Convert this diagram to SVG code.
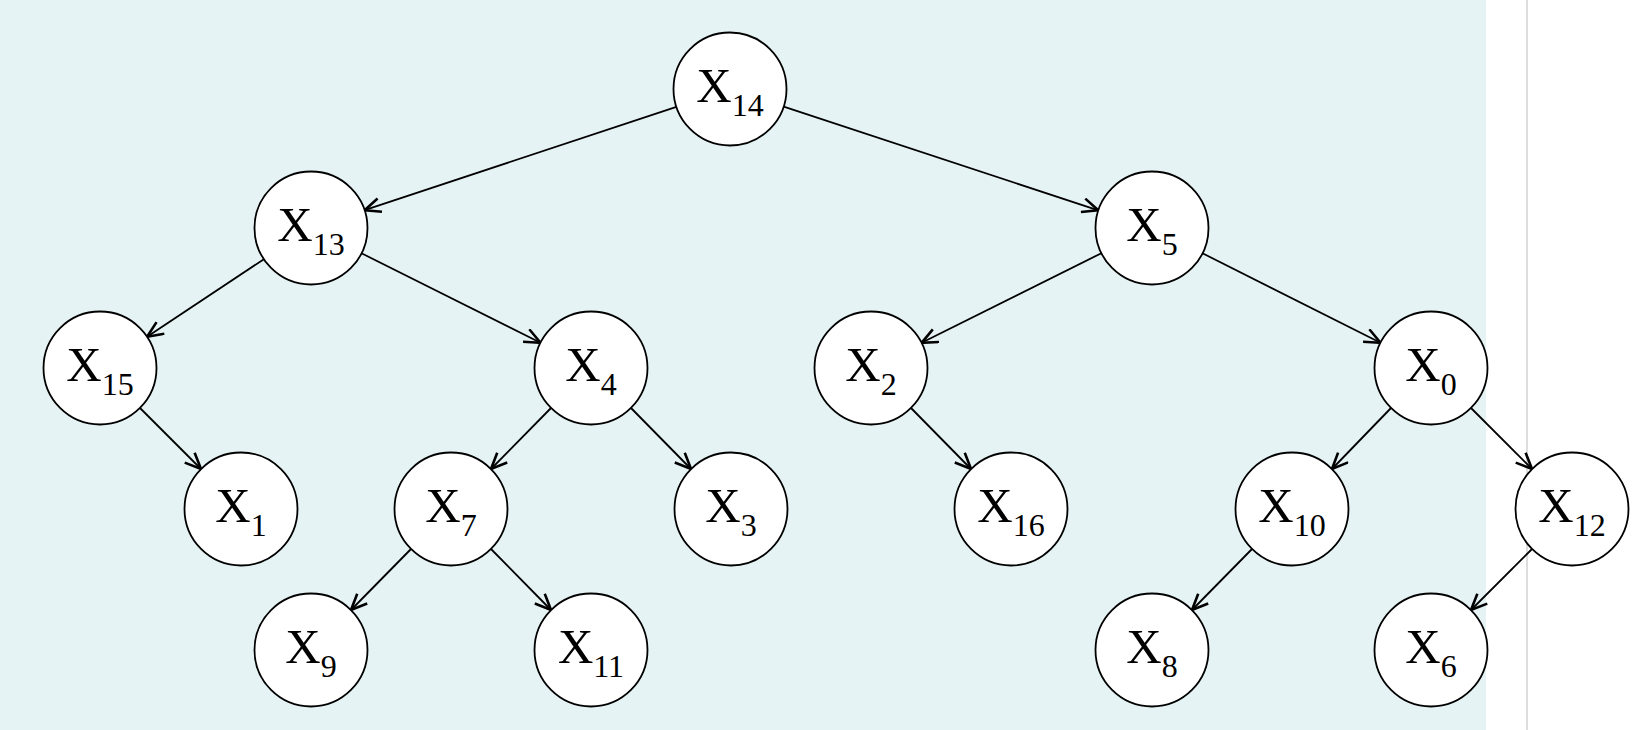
<svg xmlns="http://www.w3.org/2000/svg" width="1640" height="730" viewBox="0 0 1640 730">
<style>
.n circle{fill:#fff;stroke:#000;stroke-width:1.8}
.n text{font-family:"Liberation Serif",serif;font-size:49px;text-anchor:middle;fill:#000}
.n tspan{font-size:32px}
#edges line{stroke:#000;stroke-width:1.8;marker-end:url(#a)}
</style>
<defs><marker id="a" markerUnits="userSpaceOnUse" markerWidth="22" markerHeight="20" refX="18" refY="8" orient="auto"><path d="M2,1 L18,8 L2,15" fill="none" stroke="#000" stroke-width="2.6"/></marker></defs>
<rect x="0" y="0" width="1486" height="730" fill="#e6f3f5"/>
<line x1="1527" y1="0" x2="1527" y2="730" stroke="#ddd" stroke-width="2"/>
<g id="edges">
<line x1="676.4" y1="106.8" x2="364.6" y2="210.2"/>
<line x1="783.7" y1="106.7" x2="1098.3" y2="210.3"/>
<line x1="263.9" y1="259.2" x2="147.1" y2="336.8"/>
<line x1="361.5" y1="253.3" x2="540.5" y2="342.7"/>
<line x1="1101.4" y1="253.2" x2="921.6" y2="342.8"/>
<line x1="1202.5" y1="253.3" x2="1380.5" y2="342.7"/>
<line x1="140" y1="408" x2="201" y2="469"/>
<line x1="551" y1="408" x2="491" y2="469"/>
<line x1="631" y1="408" x2="691" y2="469"/>
<line x1="911" y1="408" x2="971" y2="469"/>
<line x1="1391" y1="408" x2="1332" y2="469"/>
<line x1="1471" y1="408" x2="1532" y2="469"/>
<line x1="411" y1="549" x2="351" y2="610"/>
<line x1="491" y1="549" x2="551" y2="610"/>
<line x1="1252" y1="549" x2="1192" y2="610"/>
<line x1="1532" y1="549" x2="1471" y2="610"/>
</g>
<g id="x14" class="n"><circle cx="730" cy="89" r="56.5"/><text x="730" y="102">X<tspan dy="14">14</tspan></text></g>
<g id="x13" class="n"><circle cx="311" cy="228" r="56.5"/><text x="311" y="241">X<tspan dy="14">13</tspan></text></g>
<g id="x5" class="n"><circle cx="1152" cy="228" r="56.5"/><text x="1152" y="241">X<tspan dy="14">5</tspan></text></g>
<g id="x15" class="n"><circle cx="100" cy="368" r="56.5"/><text x="100" y="381">X<tspan dy="14">15</tspan></text></g>
<g id="x4" class="n"><circle cx="591" cy="368" r="56.5"/><text x="591" y="381">X<tspan dy="14">4</tspan></text></g>
<g id="x2" class="n"><circle cx="871" cy="368" r="56.5"/><text x="871" y="381">X<tspan dy="14">2</tspan></text></g>
<g id="x0" class="n"><circle cx="1431" cy="368" r="56.5"/><text x="1431" y="381">X<tspan dy="14">0</tspan></text></g>
<g id="x1" class="n"><circle cx="241" cy="509" r="56.5"/><text x="241" y="522">X<tspan dy="14">1</tspan></text></g>
<g id="x7" class="n"><circle cx="451" cy="509" r="56.5"/><text x="451" y="522">X<tspan dy="14">7</tspan></text></g>
<g id="x3" class="n"><circle cx="731" cy="509" r="56.5"/><text x="731" y="522">X<tspan dy="14">3</tspan></text></g>
<g id="x16" class="n"><circle cx="1011" cy="509" r="56.5"/><text x="1011" y="522">X<tspan dy="14">16</tspan></text></g>
<g id="x10" class="n"><circle cx="1292" cy="509" r="56.5"/><text x="1292" y="522">X<tspan dy="14">10</tspan></text></g>
<g id="x12" class="n"><circle cx="1572" cy="509" r="56.5"/><text x="1572" y="522">X<tspan dy="14">12</tspan></text></g>
<g id="x9" class="n"><circle cx="311" cy="650" r="56.5"/><text x="311" y="663">X<tspan dy="14">9</tspan></text></g>
<g id="x11" class="n"><circle cx="591" cy="650" r="56.5"/><text x="591" y="663">X<tspan dy="14">11</tspan></text></g>
<g id="x8" class="n"><circle cx="1152" cy="650" r="56.5"/><text x="1152" y="663">X<tspan dy="14">8</tspan></text></g>
<g id="x6" class="n"><circle cx="1431" cy="650" r="56.5"/><text x="1431" y="663">X<tspan dy="14">6</tspan></text></g>
</svg>
